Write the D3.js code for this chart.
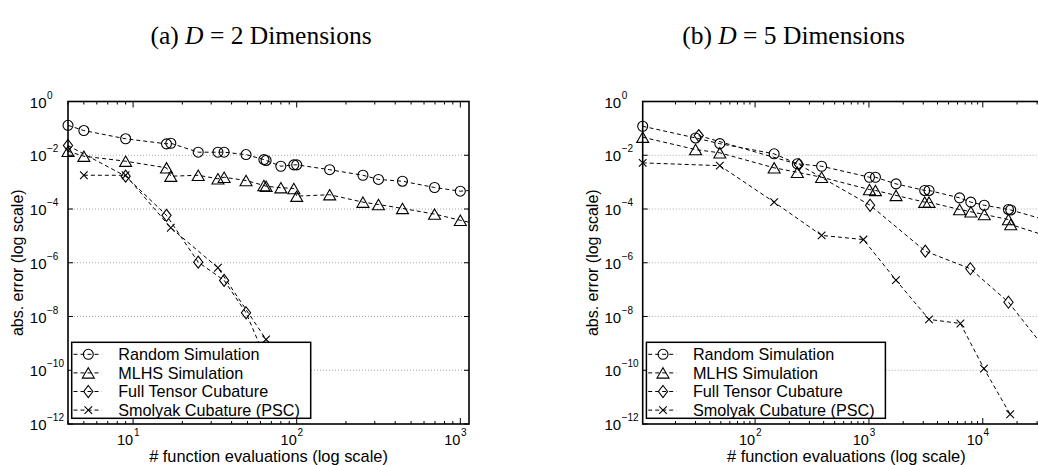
<!DOCTYPE html>
<html><head><meta charset="utf-8">
<script src="https://cdn.jsdelivr.net/npm/d3@7"></script>
<style>body{margin:0;background:#fff}svg{display:block}</style>
</head><body><div id="chart"></div>
<script>
// ---------- data ----------
const seriesNames = ["Random Simulation", "MLHS Simulation", "Full Tensor Cubature", "Smolyak Cubature (PSC)"];
const yTickExponents = [0, -2, -4, -6, -8, -10, -12];

// Panel (a): D = 2
const titleA = ["(a) ", "D", " = 2 Dimensions"];
const xTickExpA = [1, 2, 3];
const simXA = [4, 5, 9, 16, 17, 25, 33, 36, 49, 63, 65, 80, 96, 100, 159, 254, 316, 443, 696, 1000, 1140];
const randomYA = [0.13, 0.083, 0.041, 0.0266, 0.028, 0.013, 0.013, 0.013, 0.0106, 0.0069, 0.0064, 0.0039, 0.0044, 0.0044, 0.0029, 0.0018, 0.00126, 0.00108, 0.00063, 0.00046, 0.00049];
const mlhsYA = [0.0141, 0.0092, 0.006, 0.0034, 0.00166, 0.0018, 0.00133, 0.00152, 0.00115, 0.00075, 0.0007, 0.00062, 0.00058, 0.0003, 0.00034, 0.00018, 0.000147, 0.000105, 0.0000645, 0.000038, 0.000032];
const fullXA = [4, 9, 16, 25, 36, 49, 64];
const fullYA = [0.023, 0.00166, 5.8e-5, 1.05e-6, 2.2e-7, 1.38e-8, 3e-10];
const smolXA = [5, 9, 17, 33, 65];
const smolYA = [0.0018, 0.0018, 2.0e-5, 6.5e-7, 1.4e-9];

// Panel (b): D = 5
const titleB = ["(b) ", "D", " = 5 Dimensions"];
const xTickExpB = [2, 3, 4];
const simXB = [10.3, 30, 49, 147, 235, 384, 1010, 1140, 1730, 3090, 3370, 6250, 7850, 10300, 16800, 17600, 40000];
const randomYB = [0.12, 0.044, 0.027, 0.0113, 0.0048, 0.0039, 0.00152, 0.00152, 0.00086, 0.00049, 0.00049, 0.00026, 0.00018, 0.000138, 0.000096, 0.000092, 3.4e-5];
const mlhsYB = [0.047, 0.0163, 0.0123, 0.0034, 0.00233, 0.00152, 0.00053, 0.00049, 0.00032, 0.00018, 0.00018, 0.0000957, 0.000079, 0.0000625, 0.0000407, 0.0000265, 8.7e-6];
const fullXB = [32, 243, 1024, 3125, 7776, 16807, 36000];
const fullYB = [0.054, 0.0045, 1.38e-4, 2.7e-6, 6e-7, 3.4e-8, 5.7e-10];
const smolXB = [10.3, 49, 147, 384, 894, 1728, 3370, 6360, 10240, 17400];
const smolYB = [0.0052, 0.0041, 1.8e-4, 1.04e-5, 7.3e-6, 2.25e-7, 7.8e-9, 5.5e-9, 1.15e-10, 2.3e-12];

// ---------- layout ----------
const W = 1038, H = 465;
const TOP = 101.5, BOTTOM = 424;
const SANS = "'Liberation Sans', Arial, Helvetica, sans-serif";
const SERIF = "'Liberation Serif', 'Times New Roman', serif";

const svg = d3.select("#chart").append("svg").attr("width", W).attr("height", H);

const markerTypes = ["circle", "triangle", "diamond", "cross"];

function drawMarker(g, type, x, y) {
  const s = g.append("path").attr("fill", "none").attr("stroke", "#000").attr("stroke-width", 1.1);
  let d;
  if (type === "circle") {
    const r = 5;
    d = `M${x - r},${y}a${r},${r} 0 1,0 ${2 * r},0a${r},${r} 0 1,0 ${-2 * r},0Z`;
  } else if (type === "triangle") {
    const hw = 6, hh = 5.2;
    d = `M${x},${y - hh}L${x + hw},${y + hh}L${x - hw},${y + hh}Z`;
  } else if (type === "diamond") {
    const hw = 4.6, hh = 6;
    d = `M${x},${y - hh}L${x + hw},${y}L${x},${y + hh}L${x - hw},${y}Z`;
  } else {
    const a = 3.8;
    d = `M${x - a},${y - a}L${x + a},${y + a}M${x - a},${y + a}L${x + a},${y - a}`;
  }
  s.attr("d", d);
}

function panel(cfg, idx) {
  const g = svg.append("g");
  const x = d3.scaleLog().domain([cfg.xmin, cfg.xmax]).range([cfg.left, cfg.right]);
  const y = d3.scaleLog().domain([1e-12, 1]).range([BOTTOM, TOP]);

  // title
  const t = g.append("text").attr("x", cfg.titleX).attr("y", 44)
    .attr("text-anchor", "middle").attr("font-family", SERIF).attr("font-size", 25.5).attr("fill", "#000");
  t.append("tspan").text(cfg.title[0]);
  t.append("tspan").attr("font-style", "italic").text(cfg.title[1]);
  t.append("tspan").text(cfg.title[2]);

  // grid (horizontal dotted)
  yTickExponents.forEach(e => {
    if (e === 0 || e === -12) return;
    g.append("line").attr("x1", cfg.left).attr("x2", cfg.right)
      .attr("y1", y(Math.pow(10, e))).attr("y2", y(Math.pow(10, e)))
      .attr("stroke", "#aaa").attr("stroke-width", 1).attr("stroke-dasharray", "1,2");
  });

  // clip
  const clipId = "clip" + idx;
  g.append("clipPath").attr("id", clipId).append("rect")
    .attr("x", cfg.left).attr("y", TOP).attr("width", cfg.right - cfg.left).attr("height", BOTTOM - TOP);

  const series = cfg.series;
  const line = d3.line().x(d => x(d[0])).y(d => y(d[1]));
  series.forEach((s, i) => {
    const pts = s.x.map((v, k) => [v, s.y[k]]);
    g.append("path").datum(pts).attr("d", line).attr("fill", "none")
      .attr("stroke", "#000").attr("stroke-width", 1).attr("stroke-dasharray", "4,3")
      .attr("clip-path", `url(#${clipId})`);
  });
  series.forEach((s, i) => {
    s.x.forEach((v, k) => {
      const px = x(v), py = y(s.y[k]);
      if (px < cfg.left - 0.5 || px > cfg.right + 0.5 || py < TOP - 0.5 || py > BOTTOM + 0.5) return;
      drawMarker(g, markerTypes[i], px, py);
    });
  });

  // ticks
  const [lx, rx] = [cfg.left, cfg.right];
  const tickG = g.append("g").attr("stroke", "#000").attr("stroke-width", 1);
  yTickExponents.forEach(e => {
    const yy = y(Math.pow(10, e));
    tickG.append("line").attr("x1", lx).attr("x2", lx + 5).attr("y1", yy).attr("y2", yy);
    tickG.append("line").attr("x1", rx).attr("x2", rx - 5).attr("y1", yy).attr("y2", yy);
  });
  const lo = Math.floor(Math.log10(cfg.xmin)), hi = Math.ceil(Math.log10(cfg.xmax));
  for (let e = lo; e <= hi; e++) {
    for (let m = 1; m <= 9; m++) {
      const v = m * Math.pow(10, e);
      if (v < cfg.xmin || v > cfg.xmax) continue;
      const xx = x(v), len = m === 1 ? 6 : 3;
      tickG.append("line").attr("x1", xx).attr("x2", xx).attr("y1", BOTTOM).attr("y2", BOTTOM - len);
      tickG.append("line").attr("x1", xx).attr("x2", xx).attr("y1", TOP).attr("y2", TOP + len);
    }
  }

  // legend
  const lg = g.append("g");
  const LX = cfg.left + 3.7, LY = 342.3, LW = 239, LH = 76;
  lg.append("rect").attr("x", LX).attr("y", LY).attr("width", LW).attr("height", LH)
    .attr("fill", "#fff").attr("stroke", "#000").attr("stroke-width", 1.5);
  seriesNames.forEach((name, i) => {
    const yy = 354.3 + i * 18.6;
    lg.append("line").attr("x1", LX + 1.8).attr("x2", LX + 30).attr("y1", yy).attr("y2", yy)
      .attr("stroke", "#000").attr("stroke-width", 1).attr("stroke-dasharray", "4,3");
    drawMarker(lg, markerTypes[i], LX + 16.6, yy);
    lg.append("text").attr("x", LX + 46.5).attr("y", yy + 5.8)
      .attr("font-family", SANS).attr("font-size", 16.2).attr("fill", "#000").text(name);
  });

  // box
  g.append("rect").attr("x", lx).attr("y", TOP).attr("width", rx - lx).attr("height", BOTTOM - TOP)
    .attr("fill", "none").attr("stroke", "#000").attr("stroke-width", 1.6);

  // y tick labels
  yTickExponents.forEach(e => {
    const yy = y(Math.pow(10, e));
    g.append("text").attr("x", lx - 21.5).attr("y", yy + 6).attr("text-anchor", "end")
      .attr("font-family", SANS).attr("font-size", 15).attr("fill", "#000").text("10");
    g.append("text").attr("x", lx - 21).attr("y", yy - 3).attr("text-anchor", "start")
      .attr("font-family", SANS).attr("font-size", 10).attr("fill", "#000")
      .text(e === 0 ? "0" : "\u2212" + (-e));
  });
  // x tick labels
  cfg.xTickExp.forEach(e => {
    const xx = x(Math.pow(10, e));
    g.append("text").attr("x", xx).attr("y", 445).attr("text-anchor", "end")
      .attr("font-family", SANS).attr("font-size", 14.5).attr("fill", "#000").text("10");
    g.append("text").attr("x", xx + 0.8).attr("y", 436).attr("text-anchor", "start")
      .attr("font-family", SANS).attr("font-size", 10).attr("fill", "#000").text(String(e));
  });

  // axis labels
  g.append("text").attr("x", (lx + rx) / 2).attr("y", 461.5).attr("text-anchor", "middle")
    .attr("font-family", SANS).attr("font-size", 16.4).attr("fill", "#000")
    .text("# function evaluations (log scale)");
  g.append("text").attr("transform", `translate(${lx - 45},${(TOP + BOTTOM) / 2}) rotate(-90)`)
    .attr("text-anchor", "middle").attr("font-family", SANS).attr("font-size", 16).attr("fill", "#000")
    .text("abs. error (log scale)");
}

panel({
  left: 68, right: 469, xmin: 4, xmax: 1130, titleX: 261, title: titleA, xTickExp: xTickExpA,
  series: [
    { x: simXA, y: randomYA }, { x: simXA, y: mlhsYA },
    { x: fullXA, y: fullYA }, { x: smolXA, y: smolYA }
  ]
}, 0);

panel({
  left: 642.7, right: 1050, xmin: 10.3, xmax: 38930, titleX: 793.5, title: titleB, xTickExp: xTickExpB,
  series: [
    { x: simXB, y: randomYB }, { x: simXB, y: mlhsYB },
    { x: fullXB, y: fullYB }, { x: smolXB, y: smolYB }
  ]
}, 1);
</script>
</body></html>
